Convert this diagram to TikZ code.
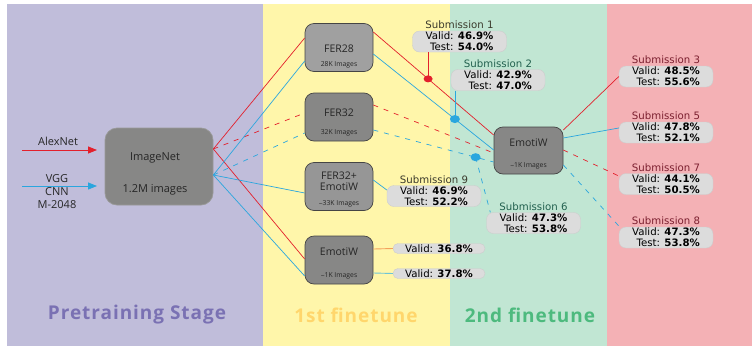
\documentclass[tikz,border=0pt]{standalone}
\usepackage{fontspec}
\setmainfont{Open Sans}
\newfontfamily\subfont{DejaVu Sans}
\newfontfamily\stagefont[LetterSpace=5]{Open Sans}
\usepackage{xcolor}
\definecolor{BandPurple}{HTML}{C0BDDA}
\definecolor{BandYellow}{HTML}{FFF6AA}
\definecolor{BandGreen}{HTML}{C1E6D3}
\definecolor{BandRed}{HTML}{F4B1B5}
\definecolor{StagePurple}{HTML}{7A71B3}
\definecolor{StageYellow}{HTML}{FFD66C}
\definecolor{StageGreen}{HTML}{4DBA7E}
\definecolor{LineRed}{HTML}{E3202C}
\definecolor{LineBlue}{HTML}{2AA6DE}
\definecolor{LineOrange}{HTML}{F3A15C}
\definecolor{LineCyan}{HTML}{6FC5D6}
\definecolor{BoxGrey}{HTML}{878786}
\definecolor{BoxLight}{HTML}{A0A0A0}
\definecolor{BoxMid}{HTML}{969696}
\definecolor{BoxEdge}{HTML}{454545}
\definecolor{SubGrey}{HTML}{DCDCDC}
\definecolor{SubEdge}{HTML}{CDCDCD}
\definecolor{TitleOlive}{HTML}{3B3A2C}
\definecolor{TitleTeal}{HTML}{22604E}
\definecolor{TitleMaroon}{HTML}{7C2030}
\usepackage{tikz}
\usetikzlibrary{
  calc,
  positioning,
  arrows.meta,
  shapes.geometric
}

\begin{document}
\begin{tikzpicture}[
  x=1pt, y=-1pt,
  box/.style      = {draw=BoxEdge, fill=BoxGrey, rounded corners=9pt,
                     minimum width=68pt, minimum height=48pt, line width=0.7pt},
  boxtitle/.style = {font=\fontsize{10.5}{11}\selectfont, align=center,
                     inner sep=0pt, text=black!85},
  boxsub/.style   = {font=\fontsize{6.8}{8}\selectfont, inner sep=0pt, text=black!85},
  netlabel/.style = {font=\fontsize{11}{13}\selectfont, align=center,
                     inner sep=0pt, text=black!85},
  subbox/.style   = {draw=SubEdge, fill=SubGrey, rounded corners=7pt,
                     minimum width=94pt, minimum height=21pt, inner sep=0pt,
                     align=right, font=\subfont\fontsize{10.2}{11}\selectfont},
  subtitle/.style = {font=\subfont\fontsize{10.2}{12}\selectfont, inner sep=0pt},
  redline/.style  = {LineRed, line width=0.7pt},
  blueline/.style = {LineBlue, line width=0.7pt},
  dashline/.style = {dash pattern=on 5pt off 6pt},
  dot/.style      = {ellipse, inner sep=0pt, minimum width=10pt, minimum height=8pt},
  stagelabel/.style = {font=\stagefont\fontsize{19}{21}\selectfont\bfseries},
  arrow/.style    = {-{Triangle[length=9pt,width=7pt]}, line width=0.8pt}
]
  \useasboundingbox (0,0) rectangle (752,346);

  % Stage bands
  \fill[BandPurple] (7,4) rectangle (263,346);
  \fill[BandYellow] (263,4) rectangle (450,346);
  \fill[BandGreen] (450,4) rectangle (607,346);
  \fill[BandRed] (607,4) rectangle (752,346);

  \node[stagelabel, text=StagePurple] (st1) at (137,315) {Pretraining Stage};
  \node[stagelabel, text=StageYellow] (st2) at (356,315) {1st finetune};
  \node[stagelabel, text=StageGreen] (st3) at (530,315) {2nd finetune};

  % Pretraining
  \node[box, draw=BoxGrey!85!white, minimum width=108pt, minimum height=77pt,
        rounded corners=12pt] (imagenet) at (159,166.5) {};
  \node[netlabel] (imagenett) at (155,158) {ImageNet};
  \node[netlabel] (imagenets) at (155,190) {1.2M images};

  \coordinate (alexa) at (22,150);
  \coordinate (alexb) at (97,150);
  \coordinate (vgga) at (22,186);
  \coordinate (vggb) at (97,186);
  \node[netlabel] (alexnet) at (58,141) {AlexNet};
  \node[netlabel] (vgg) at (57,192) {VGG\\CNN\\M-2048};
  \draw[arrow, LineRed] (alexa) -- (alexb);
  \draw[arrow, LineBlue] (vgga) -- (vggb);

  % 1st finetune boxes
  \node[box, fill=BoxLight] (fer28) at (339,47.5) {};
  \node[boxtitle] (fer28t) at (339,49) {FER28};
  \node[boxsub] (fer28s) at (339,65) {28K Images};

  \node[box] (fer32) at (339,117) {};
  \node[boxtitle] (fer32t) at (339,113) {FER32};
  \node[boxsub] (fer32s) at (339,133) {32K Images};

  \node[box, fill=BoxMid] (fer32e) at (339,186.5) {};
  \node[boxtitle] (fer32et) at (339,181.5) {FER32+\\EmotiW};
  \node[boxsub] (fer32es) at (339,204) {\raisebox{-.3ex}{\textasciitilde}33K Images};

  \node[box] (emo1) at (339,260) {};
  \node[boxtitle] (emo1t) at (339,252) {EmotiW};
  \node[boxsub] (emo1s) at (339,276) {\raisebox{-.3ex}{\textasciitilde}1K Images};

  % 2nd finetune box
  \node[box, minimum width=69pt, minimum height=47pt] (emo2) at (528.5,150.5) {};
  \node[boxtitle] (emo2t) at (528.5,143) {EmotiW};
  \node[boxsub] (emo2s) at (528.5,166) {\raisebox{-.3ex}{\textasciitilde}1K Images};

  % Submission boxes
  \node[subbox] (sub1) at (459.5,41.5) {Valid: \textbf{46.9\%}\\Test: \textbf{54.0\%}};
  \node[subbox] (sub2) at (498,80) {Valid: \textbf{42.9\%}\\Test: \textbf{47.0\%}};
  \node[subbox] (sub9) at (434,196) {Valid: \textbf{46.9\%}\\Test: \textbf{52.2\%}};
  \node[subbox, minimum height=10pt, minimum width=92pt, rounded corners=5pt]
        (val1) at (439,248.5) {Valid: \textbf{36.8\%}};
  \node[subbox, minimum height=10pt, minimum width=92pt, rounded corners=5pt]
        (val2) at (439,273.5) {Valid: \textbf{37.8\%}};
  \node[subbox] (sub6) at (533.5,223) {Valid: \textbf{47.3\%}\\Test: \textbf{53.8\%}};
  \node[subbox] (sub3) at (666,76.5) {Valid: \textbf{48.5\%}\\Test: \textbf{55.6\%}};
  \node[subbox] (sub5) at (666,132.5) {Valid: \textbf{47.8\%}\\Test: \textbf{52.1\%}};
  \node[subbox] (sub7) at (666,184) {Valid: \textbf{44.1\%}\\Test: \textbf{50.5\%}};
  \node[subbox] (sub8) at (666,237.5) {Valid: \textbf{47.3\%}\\Test: \textbf{53.8\%}};

  \node[subtitle, text=TitleOlive, above=1.5pt of sub1] (sub1t) {Submission 1};
  \node[subtitle, text=TitleTeal, above=1.5pt of sub2] (sub2t) {Submission 2};
  \node[subtitle, text=TitleOlive, above=1.5pt of sub9] (sub9t) {Submission 9};
  \node[subtitle, text=TitleTeal, above=1.5pt of sub6] (sub6t) {Submission 6};
  \node[subtitle, text=TitleMaroon, above=1.5pt of sub3] (sub3t) {Submission 3};
  \node[subtitle, text=TitleMaroon, above=1.5pt of sub5] (sub5t) {Submission 5};
  \node[subtitle, text=TitleMaroon, above=1.5pt of sub7] (sub7t) {Submission 7};
  \node[subtitle, text=TitleMaroon, above=1.5pt of sub8] (sub8t) {Submission 8};

  % ImageNet -> 1st finetune
  \coordinate (inr) at ([yshift=17.5pt]imagenet.east);
  \coordinate (inb) at ([yshift=-8.5pt]imagenet.east);
  \draw[redline] (inr) -- ([yshift=9.5pt]fer28.west);
  \draw[redline, dashline] (inr) -- ([yshift=4pt]fer32.west);
  \draw[redline] (inr) -- ([yshift=1pt]emo1.west);
  \draw[blueline] (inb) -- ([yshift=-13.5pt]fer28.west);
  \draw[blueline, dashline] (inb) -- ([yshift=-16pt]fer32.west);
  \draw[blueline] (inb) -- ([yshift=-6.5pt]fer32e.west);
  \draw[blueline] (inb) -- ([yshift=-16pt]emo1.west);

  % 1st finetune -> 2nd finetune
  \coordinate (f28r) at ([yshift=15.5pt]fer28.east);
  \coordinate (f28b) at ([yshift=-6.5pt]fer28.east);
  \coordinate (f32r) at ([yshift=12pt]fer32.east);
  \coordinate (f32b) at ([yshift=-13pt]fer32.east);
  \coordinate (e2r) at ([yshift=15.5pt]emo2.west);
  \coordinate (e2b) at ([yshift=0.5pt]emo2.west);
  \coordinate (e2rd) at ([yshift=-2.5pt]emo2.west);
  \coordinate (e2bd) at ([yshift=-11.5pt]emo2.west);
  \coordinate (d1) at ($(f28r)!0.455!(e2r)$);
  \coordinate (d2) at ($(f28b)!0.678!(e2b)$);
  \coordinate (d6) at ($(f32b)!0.85!(e2bd)$);
  \draw[redline] (f28r) -- (e2r);
  \draw[blueline] (f28b) -- (e2b);
  \draw[redline, dashline] (f32r) -- (e2rd);
  \draw[blueline, dashline] (f32b) -- (e2bd);

  % Submission links
  \draw[redline] (sub1.south -| d1) -- (d1);
  \draw[blueline] (sub2.south -| d2) -- (d2);
  \draw[blueline, dashline] (d6) -- ([xshift=4pt]sub6.north west);
  \draw[blueline] ([yshift=6.5pt]fer32e.east) -- ([yshift=6pt]sub9.west);
  \draw[LineOrange, line width=0.9pt] ([yshift=11pt]emo1.east) -- (val1.west);
  \draw[LineCyan, line width=0.9pt] ([yshift=-13pt]emo1.east) -- (val2.west);

  % 2nd finetune -> submissions
  \draw[redline] ([yshift=20.5pt]emo2.east) -- (sub3.west);
  \draw[blueline] ([yshift=12.5pt]emo2.east) -- ([yshift=4.5pt]sub5.west);
  \draw[redline, dashline] ([yshift=0.5pt]emo2.east) -- ([yshift=8pt]sub7.west);
  \draw[blueline, dashline] ([yshift=-14.5pt]emo2.east) -- ([yshift=11.5pt]sub8.west);

  % Dots
  \node[dot, fill=LineRed, minimum width=9pt, minimum height=7pt] (dot1) at (d1) {};
  \node[dot, fill=LineBlue] (dot2) at (d2) {};
  \node[dot, fill=LineBlue] (dot6) at (d6) {};
\end{tikzpicture}
\end{document}
